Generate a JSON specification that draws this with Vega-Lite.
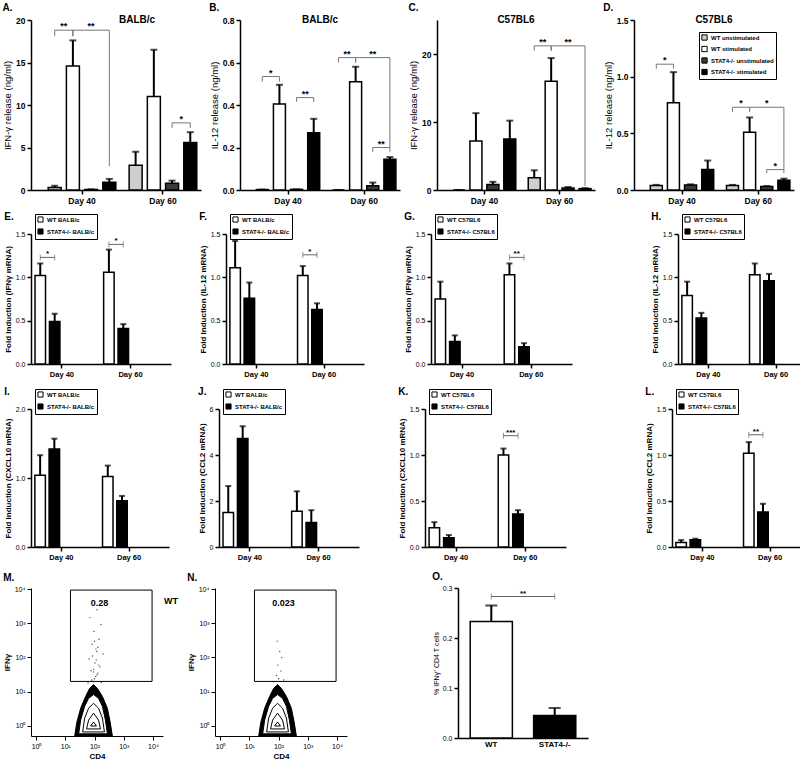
{
"$schema": "https://vega.github.io/schema/vega-lite/v6.json",
"padding": {"left": 2, "top": 3, "right": 0, "bottom": 0},
"config": {
  "font": "Liberation Sans",
  "view": {"stroke": null},
  "axis": {"grid": false, "domainColor": "#000", "domainWidth": 1.5, "tickColor": "#000", "tickWidth": 1.5, "tickSize": 4, "labelColor": "#000", "titleColor": "#000", "labelFont": "Liberation Sans", "titleFont": "Liberation Sans", "labelFontWeight": "bold", "labelFontSize": 8.5, "titleFontSize": 9.5, "titleFontWeight": "normal", "labelPadding": 2, "titlePadding": 3},
  "title": {"anchor": "start", "frame": "bounds", "fontSize": 10, "fontWeight": "bold", "font": "Liberation Sans", "offset": 2},
  "text": {"font": "Liberation Sans"},
  "legend": {"labelFont": "Liberation Sans"}
},
"datasets": {
  "A_b": [
    {"day": "Day 40", "slot": "WT unstimulated", "v": 0.3, "hi": 0.5},
    {"day": "Day 40", "slot": "WT stimulated", "v": 14.6, "hi": 17.6},
    {"day": "Day 40", "slot": "STAT4-/- unstimulated", "v": 0.05, "hi": 0.08},
    {"day": "Day 40", "slot": "STAT4-/- stimulated", "v": 0.9, "hi": 1.3},
    {"day": "Day 60", "slot": "WT unstimulated", "v": 2.9, "hi": 4.5},
    {"day": "Day 60", "slot": "WT stimulated", "v": 11.0, "hi": 16.5},
    {"day": "Day 60", "slot": "STAT4-/- unstimulated", "v": 0.8, "hi": 1.1},
    {"day": "Day 60", "slot": "STAT4-/- stimulated", "v": 5.6, "hi": 6.8}
  ],
  "A_r": [
    {"id": 1, "ord": 1, "day": "Day 40", "slot": "WT unstimulated", "v": 18.1},
    {"id": 1, "ord": 2, "day": "Day 40", "slot": "WT unstimulated", "v": 18.8},
    {"id": 1, "ord": 3, "day": "Day 40", "slot": "WT stimulated", "v": 18.8},
    {"id": 1, "ord": 4, "day": "Day 40", "slot": "WT stimulated", "v": 18.1},
    {"id": 2, "ord": 1, "day": "Day 40", "slot": "WT stimulated", "v": 18.1},
    {"id": 2, "ord": 2, "day": "Day 40", "slot": "WT stimulated", "v": 18.8},
    {"id": 2, "ord": 3, "day": "Day 40", "slot": "STAT4-/- stimulated", "v": 18.8},
    {"id": 2, "ord": 4, "day": "Day 40", "slot": "STAT4-/- stimulated", "v": 2.8},
    {"id": 3, "ord": 1, "day": "Day 60", "slot": "STAT4-/- unstimulated", "v": 7.3},
    {"id": 3, "ord": 2, "day": "Day 60", "slot": "STAT4-/- unstimulated", "v": 7.9},
    {"id": 3, "ord": 3, "day": "Day 60", "slot": "STAT4-/- stimulated", "v": 7.9},
    {"id": 3, "ord": 4, "day": "Day 60", "slot": "STAT4-/- stimulated", "v": 7.3}
  ],
  "A_s": [
    {"day": "Day 40", "slot": "m1", "v": 18.8, "t": "**"},
    {"day": "Day 40", "slot": "STAT4-/- unstimulated", "v": 18.8, "t": "**"},
    {"day": "Day 60", "slot": "m3", "v": 7.9, "t": "*"}
  ],
  "B_b": [
    {"day": "Day 40", "slot": "WT unstimulated", "v": 0.002, "hi": 0.002},
    {"day": "Day 40", "slot": "WT stimulated", "v": 0.405, "hi": 0.495},
    {"day": "Day 40", "slot": "STAT4-/- unstimulated", "v": 0.003, "hi": 0.003},
    {"day": "Day 40", "slot": "STAT4-/- stimulated", "v": 0.27, "hi": 0.335},
    {"day": "Day 60", "slot": "WT unstimulated", "v": 0.0, "hi": 0.0},
    {"day": "Day 60", "slot": "WT stimulated", "v": 0.51, "hi": 0.58},
    {"day": "Day 60", "slot": "STAT4-/- unstimulated", "v": 0.02, "hi": 0.035},
    {"day": "Day 60", "slot": "STAT4-/- stimulated", "v": 0.145, "hi": 0.155}
  ],
  "B_r": [
    {"id": 1, "ord": 1, "day": "Day 40", "slot": "WT unstimulated", "v": 0.51},
    {"id": 1, "ord": 2, "day": "Day 40", "slot": "WT unstimulated", "v": 0.534},
    {"id": 1, "ord": 3, "day": "Day 40", "slot": "WT stimulated", "v": 0.534},
    {"id": 1, "ord": 4, "day": "Day 40", "slot": "WT stimulated", "v": 0.51},
    {"id": 2, "ord": 1, "day": "Day 40", "slot": "STAT4-/- unstimulated", "v": 0.415},
    {"id": 2, "ord": 2, "day": "Day 40", "slot": "STAT4-/- unstimulated", "v": 0.435},
    {"id": 2, "ord": 3, "day": "Day 40", "slot": "STAT4-/- stimulated", "v": 0.435},
    {"id": 2, "ord": 4, "day": "Day 40", "slot": "STAT4-/- stimulated", "v": 0.415},
    {"id": 3, "ord": 1, "day": "Day 60", "slot": "WT unstimulated", "v": 0.6},
    {"id": 3, "ord": 2, "day": "Day 60", "slot": "WT unstimulated", "v": 0.623},
    {"id": 3, "ord": 3, "day": "Day 60", "slot": "WT stimulated", "v": 0.623},
    {"id": 3, "ord": 4, "day": "Day 60", "slot": "WT stimulated", "v": 0.6},
    {"id": 4, "ord": 1, "day": "Day 60", "slot": "WT stimulated", "v": 0.6},
    {"id": 4, "ord": 2, "day": "Day 60", "slot": "WT stimulated", "v": 0.623},
    {"id": 4, "ord": 3, "day": "Day 60", "slot": "STAT4-/- stimulated", "v": 0.623},
    {"id": 4, "ord": 4, "day": "Day 60", "slot": "STAT4-/- stimulated", "v": 0.2},
    {"id": 5, "ord": 1, "day": "Day 60", "slot": "STAT4-/- unstimulated", "v": 0.18},
    {"id": 5, "ord": 2, "day": "Day 60", "slot": "STAT4-/- unstimulated", "v": 0.2},
    {"id": 5, "ord": 3, "day": "Day 60", "slot": "STAT4-/- stimulated", "v": 0.2},
    {"id": 5, "ord": 4, "day": "Day 60", "slot": "STAT4-/- stimulated", "v": 0.18}
  ],
  "B_s": [
    {"day": "Day 40", "slot": "m1", "v": 0.534, "t": "*"},
    {"day": "Day 40", "slot": "m3", "v": 0.435, "t": "**"},
    {"day": "Day 60", "slot": "m1", "v": 0.623, "t": "**"},
    {"day": "Day 60", "slot": "STAT4-/- unstimulated", "v": 0.623, "t": "**"},
    {"day": "Day 60", "slot": "m3", "v": 0.2, "t": "**"}
  ],
  "C_b": [
    {"day": "Day 40", "slot": "WT unstimulated", "v": 0.0, "hi": 0.0},
    {"day": "Day 40", "slot": "WT stimulated", "v": 7.2, "hi": 11.3},
    {"day": "Day 40", "slot": "STAT4-/- unstimulated", "v": 0.8, "hi": 1.2},
    {"day": "Day 40", "slot": "STAT4-/- stimulated", "v": 7.5, "hi": 10.2},
    {"day": "Day 60", "slot": "WT unstimulated", "v": 1.8, "hi": 2.9},
    {"day": "Day 60", "slot": "WT stimulated", "v": 16.0, "hi": 19.4},
    {"day": "Day 60", "slot": "STAT4-/- unstimulated", "v": 0.3, "hi": 0.45},
    {"day": "Day 60", "slot": "STAT4-/- stimulated", "v": 0.2, "hi": 0.28}
  ],
  "C_r": [
    {"id": 1, "ord": 1, "day": "Day 60", "slot": "WT unstimulated", "v": 20.5},
    {"id": 1, "ord": 2, "day": "Day 60", "slot": "WT unstimulated", "v": 21.2},
    {"id": 1, "ord": 3, "day": "Day 60", "slot": "WT stimulated", "v": 21.2},
    {"id": 1, "ord": 4, "day": "Day 60", "slot": "WT stimulated", "v": 20.5},
    {"id": 2, "ord": 1, "day": "Day 60", "slot": "WT stimulated", "v": 20.5},
    {"id": 2, "ord": 2, "day": "Day 60", "slot": "WT stimulated", "v": 21.2},
    {"id": 2, "ord": 3, "day": "Day 60", "slot": "STAT4-/- stimulated", "v": 21.2},
    {"id": 2, "ord": 4, "day": "Day 60", "slot": "STAT4-/- stimulated", "v": 0.6}
  ],
  "C_s": [
    {"day": "Day 60", "slot": "m1", "v": 21.2, "t": "**"},
    {"day": "Day 60", "slot": "STAT4-/- unstimulated", "v": 21.2, "t": "**"}
  ],
  "D_b": [
    {"day": "Day 40", "slot": "WT unstimulated", "v": 0.04, "hi": 0.045},
    {"day": "Day 40", "slot": "WT stimulated", "v": 0.77, "hi": 1.04},
    {"day": "Day 40", "slot": "STAT4-/- unstimulated", "v": 0.045, "hi": 0.05},
    {"day": "Day 40", "slot": "STAT4-/- stimulated", "v": 0.18, "hi": 0.26},
    {"day": "Day 60", "slot": "WT unstimulated", "v": 0.04, "hi": 0.045},
    {"day": "Day 60", "slot": "WT stimulated", "v": 0.51, "hi": 0.64},
    {"day": "Day 60", "slot": "STAT4-/- unstimulated", "v": 0.03, "hi": 0.035},
    {"day": "Day 60", "slot": "STAT4-/- stimulated", "v": 0.085, "hi": 0.1}
  ],
  "D_r": [
    {"id": 1, "ord": 1, "day": "Day 40", "slot": "WT unstimulated", "v": 1.07},
    {"id": 1, "ord": 2, "day": "Day 40", "slot": "WT unstimulated", "v": 1.11},
    {"id": 1, "ord": 3, "day": "Day 40", "slot": "WT stimulated", "v": 1.11},
    {"id": 1, "ord": 4, "day": "Day 40", "slot": "WT stimulated", "v": 1.07},
    {"id": 2, "ord": 1, "day": "Day 60", "slot": "WT unstimulated", "v": 0.69},
    {"id": 2, "ord": 2, "day": "Day 60", "slot": "WT unstimulated", "v": 0.73},
    {"id": 2, "ord": 3, "day": "Day 60", "slot": "WT stimulated", "v": 0.73},
    {"id": 2, "ord": 4, "day": "Day 60", "slot": "WT stimulated", "v": 0.69},
    {"id": 3, "ord": 1, "day": "Day 60", "slot": "WT stimulated", "v": 0.69},
    {"id": 3, "ord": 2, "day": "Day 60", "slot": "WT stimulated", "v": 0.73},
    {"id": 3, "ord": 3, "day": "Day 60", "slot": "STAT4-/- stimulated", "v": 0.73},
    {"id": 3, "ord": 4, "day": "Day 60", "slot": "STAT4-/- stimulated", "v": 0.18},
    {"id": 4, "ord": 1, "day": "Day 60", "slot": "STAT4-/- unstimulated", "v": 0.15},
    {"id": 4, "ord": 2, "day": "Day 60", "slot": "STAT4-/- unstimulated", "v": 0.18},
    {"id": 4, "ord": 3, "day": "Day 60", "slot": "STAT4-/- stimulated", "v": 0.18},
    {"id": 4, "ord": 4, "day": "Day 60", "slot": "STAT4-/- stimulated", "v": 0.15}
  ],
  "D_s": [
    {"day": "Day 40", "slot": "m1", "v": 1.11, "t": "*"},
    {"day": "Day 60", "slot": "m1", "v": 0.73, "t": "*"},
    {"day": "Day 60", "slot": "STAT4-/- unstimulated", "v": 0.73, "t": "*"},
    {"day": "Day 60", "slot": "m3", "v": 0.18, "t": "*"}
  ],
  "E_b": [
    {"day": "Day 40", "slot": "WT BALB/c", "v": 1.02, "hi": 1.16},
    {"day": "Day 40", "slot": "STAT4-/- BALB/c", "v": 0.49, "hi": 0.58},
    {"day": "Day 60", "slot": "WT BALB/c", "v": 1.06, "hi": 1.32},
    {"day": "Day 60", "slot": "STAT4-/- BALB/c", "v": 0.41, "hi": 0.46}
  ],
  "E_r": [
    {"id": 1, "day": "Day 40", "slot": "WT BALB/c", "v": 1.23},
    {"id": 1, "day": "Day 40", "slot": "STAT4-/- BALB/c", "v": 1.23},
    {"id": 2, "day": "Day 60", "slot": "WT BALB/c", "v": 1.38},
    {"id": 2, "day": "Day 60", "slot": "STAT4-/- BALB/c", "v": 1.38}
  ],
  "E_s": [
    {"day": "Day 40", "slot": "mid", "v": 1.23, "t": "*"},
    {"day": "Day 60", "slot": "mid", "v": 1.38, "t": "*"}
  ],
  "F_b": [
    {"day": "Day 40", "slot": "WT BALB/c", "v": 1.11, "hi": 1.42},
    {"day": "Day 40", "slot": "STAT4-/- BALB/c", "v": 0.76, "hi": 0.94},
    {"day": "Day 60", "slot": "WT BALB/c", "v": 1.02, "hi": 1.13},
    {"day": "Day 60", "slot": "STAT4-/- BALB/c", "v": 0.63, "hi": 0.7}
  ],
  "F_r": [
    {"id": 1, "day": "Day 60", "slot": "WT BALB/c", "v": 1.26},
    {"id": 1, "day": "Day 60", "slot": "STAT4-/- BALB/c", "v": 1.26}
  ],
  "F_s": [
    {"day": "Day 60", "slot": "mid", "v": 1.26, "t": "*"}
  ],
  "G_b": [
    {"day": "Day 40", "slot": "WT C57BL6", "v": 0.75, "hi": 0.95},
    {"day": "Day 40", "slot": "STAT4-/- C57BL6", "v": 0.26, "hi": 0.33},
    {"day": "Day 60", "slot": "WT C57BL6", "v": 1.03, "hi": 1.16},
    {"day": "Day 60", "slot": "STAT4-/- C57BL6", "v": 0.2, "hi": 0.24}
  ],
  "G_r": [
    {"id": 1, "day": "Day 60", "slot": "WT C57BL6", "v": 1.23},
    {"id": 1, "day": "Day 60", "slot": "STAT4-/- C57BL6", "v": 1.23}
  ],
  "G_s": [
    {"day": "Day 60", "slot": "mid", "v": 1.23, "t": "**"}
  ],
  "H_b": [
    {"day": "Day 40", "slot": "WT C57BL6", "v": 0.79, "hi": 0.95},
    {"day": "Day 40", "slot": "STAT4-/- C57BL6", "v": 0.53, "hi": 0.59},
    {"day": "Day 60", "slot": "WT C57BL6", "v": 1.03, "hi": 1.16},
    {"day": "Day 60", "slot": "STAT4-/- C57BL6", "v": 0.96, "hi": 1.04}
  ],
  "I_b": [
    {"day": "Day 40", "slot": "WT BALB/c", "v": 1.04, "hi": 1.33},
    {"day": "Day 40", "slot": "STAT4-/- BALB/c", "v": 1.42, "hi": 1.57},
    {"day": "Day 60", "slot": "WT BALB/c", "v": 1.02, "hi": 1.18},
    {"day": "Day 60", "slot": "STAT4-/- BALB/c", "v": 0.67, "hi": 0.74}
  ],
  "J_b": [
    {"day": "Day 40", "slot": "WT BALB/c", "v": 1.5, "hi": 2.65},
    {"day": "Day 40", "slot": "STAT4-/- BALB/c", "v": 4.72, "hi": 5.25},
    {"day": "Day 60", "slot": "WT BALB/c", "v": 1.55, "hi": 2.42},
    {"day": "Day 60", "slot": "STAT4-/- BALB/c", "v": 1.07, "hi": 1.6}
  ],
  "K_b": [
    {"day": "Day 40", "slot": "WT C57BL6", "v": 0.21, "hi": 0.27},
    {"day": "Day 40", "slot": "STAT4-/- C57BL6", "v": 0.1, "hi": 0.13},
    {"day": "Day 60", "slot": "WT C57BL6", "v": 1.0, "hi": 1.07},
    {"day": "Day 60", "slot": "STAT4-/- C57BL6", "v": 0.36, "hi": 0.4}
  ],
  "K_r": [
    {"id": 1, "day": "Day 60", "slot": "WT C57BL6", "v": 1.21},
    {"id": 1, "day": "Day 60", "slot": "STAT4-/- C57BL6", "v": 1.21}
  ],
  "K_s": [
    {"day": "Day 60", "slot": "mid", "v": 1.21, "t": "***"}
  ],
  "L_b": [
    {"day": "Day 40", "slot": "WT C57BL6", "v": 0.05, "hi": 0.075},
    {"day": "Day 40", "slot": "STAT4-/- C57BL6", "v": 0.08, "hi": 0.09},
    {"day": "Day 60", "slot": "WT C57BL6", "v": 1.02, "hi": 1.14},
    {"day": "Day 60", "slot": "STAT4-/- C57BL6", "v": 0.38, "hi": 0.47}
  ],
  "L_r": [
    {"id": 1, "day": "Day 60", "slot": "WT C57BL6", "v": 1.22},
    {"id": 1, "day": "Day 60", "slot": "STAT4-/- C57BL6", "v": 1.22}
  ],
  "L_s": [
    {"day": "Day 60", "slot": "mid", "v": 1.22, "t": "**"}
  ],
  "ring": [
    {"ring": "r1", "ord": 1, "cd4": 21, "ifng": 0.51},
    {"ring": "r1", "ord": 2, "cd4": 24.5, "ifng": 1.22},
    {"ring": "r1", "ord": 3, "cd4": 33.5, "ifng": 3.3},
    {"ring": "r1", "ord": 4, "cd4": 49.5, "ifng": 7.3},
    {"ring": "r1", "ord": 5, "cd4": 67.6, "ifng": 12.4},
    {"ring": "r1", "ord": 6, "cd4": 92.5, "ifng": 16.2},
    {"ring": "r1", "ord": 7, "cd4": 126, "ifng": 12.4},
    {"ring": "r1", "ord": 8, "cd4": 186, "ifng": 7.3},
    {"ring": "r1", "ord": 9, "cd4": 275, "ifng": 3.3},
    {"ring": "r1", "ord": 10, "cd4": 347, "ifng": 1.22},
    {"ring": "r1", "ord": 11, "cd4": 407, "ifng": 0.51},
    {"ring": "r1", "ord": 12, "cd4": 21, "ifng": 0.51},
    {"ring": "r2", "ord": 1, "cd4": 28.7, "ifng": 0.59},
    {"ring": "r2", "ord": 2, "cd4": 33.5, "ifng": 1.49},
    {"ring": "r2", "ord": 3, "cd4": 45.9, "ifng": 3.76},
    {"ring": "r2", "ord": 4, "cd4": 62.6, "ifng": 6.4},
    {"ring": "r2", "ord": 5, "cd4": 92.5, "ifng": 8.3},
    {"ring": "r2", "ord": 6, "cd4": 137, "ifng": 6.4},
    {"ring": "r2", "ord": 7, "cd4": 186, "ifng": 3.76},
    {"ring": "r2", "ord": 8, "cd4": 236, "ifng": 1.49},
    {"ring": "r2", "ord": 9, "cd4": 275, "ifng": 0.59},
    {"ring": "r2", "ord": 10, "cd4": 28.7, "ifng": 0.59},
    {"ring": "r3", "ord": 1, "cd4": 39.2, "ifng": 0.67},
    {"ring": "r3", "ord": 2, "cd4": 45.9, "ifng": 1.7},
    {"ring": "r3", "ord": 3, "cd4": 62.6, "ifng": 3.3},
    {"ring": "r3", "ord": 4, "cd4": 92.5, "ifng": 4.6},
    {"ring": "r3", "ord": 5, "cd4": 137, "ifng": 3.3},
    {"ring": "r3", "ord": 6, "cd4": 186, "ifng": 1.7},
    {"ring": "r3", "ord": 7, "cd4": 218, "ifng": 0.67},
    {"ring": "r3", "ord": 8, "cd4": 39.2, "ifng": 0.67},
    {"ring": "r4", "ord": 1, "cd4": 53.6, "ifng": 0.82},
    {"ring": "r4", "ord": 2, "cd4": 62.6, "ifng": 1.49},
    {"ring": "r4", "ord": 3, "cd4": 92.5, "ifng": 2.37},
    {"ring": "r4", "ord": 4, "cd4": 137, "ifng": 1.49},
    {"ring": "r4", "ord": 5, "cd4": 160, "ifng": 0.82},
    {"ring": "r4", "ord": 6, "cd4": 53.6, "ifng": 0.82},
    {"ring": "r5", "ord": 1, "cd4": 73, "ifng": 1.0},
    {"ring": "r5", "ord": 2, "cd4": 92.5, "ifng": 1.3},
    {"ring": "r5", "ord": 3, "cd4": 117, "ifng": 1.0},
    {"ring": "r5", "ord": 4, "cd4": 73, "ifng": 1.0}
  ],
  "M_dot": [
    {"cd4": 100, "ifng": 24}, {"cd4": 122, "ifng": 31.4}, {"cd4": 75.9, "ifng": 40.9}, {"cd4": 154, "ifng": 53.3},
    {"cd4": 104, "ifng": 69.5}, {"cd4": 64.9, "ifng": 90.5}, {"cd4": 195, "ifng": 126}, {"cd4": 112, "ifng": 176},
    {"cd4": 82.2, "ifng": 245}, {"cd4": 142, "ifng": 341}, {"cd4": 96.1, "ifng": 579}, {"cd4": 167, "ifng": 921},
    {"cd4": 70.2, "ifng": 1463}, {"cd4": 122, "ifng": 2488}, {"cd4": 89, "ifng": 20}, {"cd4": 110, "ifng": 28},
    {"cd4": 80, "ifng": 22}, {"cd4": 130, "ifng": 35}, {"cd4": 95, "ifng": 45}, {"cd4": 140, "ifng": 60},
    {"cd4": 85, "ifng": 110}, {"cd4": 120, "ifng": 150}, {"cd4": 100, "ifng": 300}, {"cd4": 130, "ifng": 200},
    {"cd4": 60, "ifng": 18}, {"cd4": 170, "ifng": 19}, {"cd4": 92, "ifng": 38}, {"cd4": 115, "ifng": 85}
  ],
  "N_dot": [
    {"cd4": 100, "ifng": 24}, {"cd4": 85, "ifng": 30}, {"cd4": 120, "ifng": 40}, {"cd4": 95, "ifng": 60},
    {"cd4": 110, "ifng": 150}, {"cd4": 90, "ifng": 300}, {"cd4": 130, "ifng": 100}, {"cd4": 70, "ifng": 20},
    {"cd4": 150, "ifng": 22}
  ],
  "gate": [{"x1": 15, "x2": 9300, "y1": 20, "y2": 9300}],
  "M_lab": [{"cd4": 148, "ifng": 4000, "t": "0.28"}],
  "N_lab": [{"cd4": 148, "ifng": 4000, "t": "0.023"}],
  "M_name": [{"cd4": 24000, "ifng": 4500, "t": "WT"}],
  "O_b": [
    {"g": "WT", "v": 0.233, "hi": 0.265},
    {"g": "STAT4-/-", "v": 0.045, "hi": 0.06}
  ],
  "O_r": [
    {"g": "WT", "v": 0.283},
    {"g": "STAT4-/-", "v": 0.283}
  ],
  "O_s": [
    {"g": "mid", "v": 0.283, "t": "**"}
  ]
},
"resolve": {"scale": {"fill": "independent", "xOffset": "independent"}, "legend": {"fill": "independent"}},
"spacing": 11,
"vconcat": [
 {"resolve": {"scale": {"fill": "independent", "xOffset": "independent"}, "legend": {"fill": "independent"}},
  "spacing": 8,
  "vconcat": [
 {"resolve": {"scale": {"fill": "independent", "xOffset": "independent"}, "legend": {"fill": "independent"}},
  "spacing": 6,
  "vconcat": [
 {"resolve": {"scale": {"fill": "independent", "xOffset": "independent"}, "legend": {"fill": "independent"}},
  "hconcat": [
  {"title": {"text": "A."}, "width": 170, "height": 170,
   "layer": [
    {"data": {"name": "A_b"}, "mark": {"type": "bar", "stroke": "black", "strokeWidth": 1.5, "width": 13},
     "encoding": {
      "x": {"field": "day", "type": "nominal", "scale": {"domain": ["Day 40", "Day 60"], "paddingInner": 0.1, "paddingOuter": 0.1, "align": 0.9}, "axis": {"title": null, "labelAngle": 0}},
      "xOffset": {"field": "slot", "type": "nominal", "scale": {"domain": ["WT unstimulated", "m1", "WT stimulated", "m2", "STAT4-/- unstimulated", "m3", "STAT4-/- stimulated"], "paddingInner": 0, "paddingOuter": 0.5}},
      "y": {"field": "v", "type": "quantitative", "scale": {"domain": [0, 20], "nice": false}, "axis": {"title": "IFN-γ release (ng/ml)", "values": [0, 5, 10, 15, 20]}},
      "fill": {"field": "slot", "type": "nominal", "scale": {"domain": ["WT unstimulated", "WT stimulated", "STAT4-/- unstimulated", "STAT4-/- stimulated"], "range": ["#cfcfcf", "#ffffff", "#3a3a3a", "#000000"]}, "legend": null}}},
    {"data": {"name": "A_b"}, "mark": {"type": "rule", "strokeWidth": 2, "color": "black"},
     "encoding": {"x": {"field": "day", "type": "nominal"}, "xOffset": {"field": "slot", "type": "nominal"}, "y": {"field": "v", "type": "quantitative"}, "y2": {"field": "hi"}}},
    {"data": {"name": "A_b"}, "mark": {"type": "tick", "thickness": 2, "size": 7, "color": "black"},
     "encoding": {"x": {"field": "day", "type": "nominal"}, "xOffset": {"field": "slot", "type": "nominal"}, "y": {"field": "hi", "type": "quantitative"}}},
    {"data": {"name": "A_r"}, "mark": {"type": "line", "color": "#777", "strokeWidth": 1},
     "encoding": {"x": {"field": "day", "type": "nominal"}, "xOffset": {"field": "slot", "type": "nominal"}, "y": {"field": "v", "type": "quantitative"}, "detail": {"field": "id"}, "order": {"field": "ord"}}},
    {"data": {"name": "A_s"}, "mark": {"type": "text", "fontSize": 9, "fontWeight": "bold", "dy": -1, "baseline": "alphabetic"},
     "encoding": {"x": {"field": "day", "type": "nominal"}, "xOffset": {"field": "slot", "type": "nominal"}, "y": {"field": "v", "type": "quantitative"}, "text": {"field": "t"}}},
    {"data": {"values": [{"t": "BALB/c"}]}, "mark": {"type": "text", "fontSize": 10, "fontWeight": "bold", "baseline": "middle", "dx": 21},
     "encoding": {"y": {"datum": 20}, "text": {"field": "t"}}}
   ]},
  {"title": {"text": "B."}, "width": 160, "height": 170,
   "layer": [
    {"data": {"name": "B_b"}, "mark": {"type": "bar", "stroke": "black", "strokeWidth": 1.5, "width": 12},
     "encoding": {
      "x": {"field": "day", "type": "nominal", "scale": {"domain": ["Day 40", "Day 60"], "paddingInner": 0.1, "paddingOuter": 0.1, "align": 0.9}, "axis": {"title": null, "labelAngle": 0}},
      "xOffset": {"field": "slot", "type": "nominal", "scale": {"domain": ["WT unstimulated", "m1", "WT stimulated", "m2", "STAT4-/- unstimulated", "m3", "STAT4-/- stimulated"], "paddingInner": 0, "paddingOuter": 0.5}},
      "y": {"field": "v", "type": "quantitative", "scale": {"domain": [0, 0.8], "nice": false}, "axis": {"title": "IL-12 release (ng/ml)", "values": [0, 0.2, 0.4, 0.6, 0.8], "format": ".1f"}},
      "fill": {"field": "slot", "type": "nominal", "scale": {"domain": ["WT unstimulated", "WT stimulated", "STAT4-/- unstimulated", "STAT4-/- stimulated"], "range": ["#cfcfcf", "#ffffff", "#3a3a3a", "#000000"]}, "legend": null}}},
    {"data": {"name": "B_b"}, "mark": {"type": "rule", "strokeWidth": 2, "color": "black"},
     "encoding": {"x": {"field": "day", "type": "nominal"}, "xOffset": {"field": "slot", "type": "nominal"}, "y": {"field": "v", "type": "quantitative"}, "y2": {"field": "hi"}}},
    {"data": {"name": "B_b"}, "mark": {"type": "tick", "thickness": 2, "size": 7, "color": "black"},
     "encoding": {"x": {"field": "day", "type": "nominal"}, "xOffset": {"field": "slot", "type": "nominal"}, "y": {"field": "hi", "type": "quantitative"}}},
    {"data": {"name": "B_r"}, "mark": {"type": "line", "color": "#777", "strokeWidth": 1},
     "encoding": {"x": {"field": "day", "type": "nominal"}, "xOffset": {"field": "slot", "type": "nominal"}, "y": {"field": "v", "type": "quantitative"}, "detail": {"field": "id"}, "order": {"field": "ord"}}},
    {"data": {"name": "B_s"}, "mark": {"type": "text", "fontSize": 9, "fontWeight": "bold", "dy": -1, "baseline": "alphabetic"},
     "encoding": {"x": {"field": "day", "type": "nominal"}, "xOffset": {"field": "slot", "type": "nominal"}, "y": {"field": "v", "type": "quantitative"}, "text": {"field": "t"}}},
    {"data": {"values": [{"t": "BALB/c"}]}, "mark": {"type": "text", "fontSize": 10, "fontWeight": "bold", "baseline": "middle"},
     "encoding": {"y": {"datum": 0.8}, "text": {"field": "t"}}}
   ]},
  {"title": {"text": "C."}, "width": 158, "height": 170,
   "layer": [
    {"data": {"name": "C_b"}, "mark": {"type": "bar", "stroke": "black", "strokeWidth": 1.5, "width": 12},
     "encoding": {
      "x": {"field": "day", "type": "nominal", "scale": {"domain": ["Day 40", "Day 60"], "paddingInner": 0.1, "paddingOuter": 0.1, "align": 0.9}, "axis": {"title": null, "labelAngle": 0}},
      "xOffset": {"field": "slot", "type": "nominal", "scale": {"domain": ["WT unstimulated", "m1", "WT stimulated", "m2", "STAT4-/- unstimulated", "m3", "STAT4-/- stimulated"], "paddingInner": 0, "paddingOuter": 0.5}},
      "y": {"field": "v", "type": "quantitative", "scale": {"domain": [0, 25], "nice": false}, "axis": {"title": "IFN-γ release (ng/ml)", "values": [0, 5, 10, 15, 20, 25]}},
      "fill": {"field": "slot", "type": "nominal", "scale": {"domain": ["WT unstimulated", "WT stimulated", "STAT4-/- unstimulated", "STAT4-/- stimulated"], "range": ["#cfcfcf", "#ffffff", "#3a3a3a", "#000000"]}, "legend": null}}},
    {"data": {"name": "C_b"}, "mark": {"type": "rule", "strokeWidth": 2, "color": "black"},
     "encoding": {"x": {"field": "day", "type": "nominal"}, "xOffset": {"field": "slot", "type": "nominal"}, "y": {"field": "v", "type": "quantitative"}, "y2": {"field": "hi"}}},
    {"data": {"name": "C_b"}, "mark": {"type": "tick", "thickness": 2, "size": 7, "color": "black"},
     "encoding": {"x": {"field": "day", "type": "nominal"}, "xOffset": {"field": "slot", "type": "nominal"}, "y": {"field": "hi", "type": "quantitative"}}},
    {"data": {"name": "C_r"}, "mark": {"type": "line", "color": "#777", "strokeWidth": 1},
     "encoding": {"x": {"field": "day", "type": "nominal"}, "xOffset": {"field": "slot", "type": "nominal"}, "y": {"field": "v", "type": "quantitative"}, "detail": {"field": "id"}, "order": {"field": "ord"}}},
    {"data": {"name": "C_s"}, "mark": {"type": "text", "fontSize": 9, "fontWeight": "bold", "dy": -1, "baseline": "alphabetic"},
     "encoding": {"x": {"field": "day", "type": "nominal"}, "xOffset": {"field": "slot", "type": "nominal"}, "y": {"field": "v", "type": "quantitative"}, "text": {"field": "t"}}},
    {"data": {"values": [{"t": "C57BL6"}]}, "mark": {"type": "text", "fontSize": 10, "fontWeight": "bold", "baseline": "middle"},
     "encoding": {"y": {"datum": 25}, "text": {"field": "t"}}}
   ]},
  {"title": {"text": "D."}, "width": 160, "height": 170,
   "layer": [
    {"data": {"name": "D_b"}, "mark": {"type": "bar", "stroke": "black", "strokeWidth": 1.5, "width": 12},
     "encoding": {
      "x": {"field": "day", "type": "nominal", "scale": {"domain": ["Day 40", "Day 60"], "paddingInner": 0.1, "paddingOuter": 0.1, "align": 0.9}, "axis": {"title": null, "labelAngle": 0}},
      "xOffset": {"field": "slot", "type": "nominal", "scale": {"domain": ["WT unstimulated", "m1", "WT stimulated", "m2", "STAT4-/- unstimulated", "m3", "STAT4-/- stimulated"], "paddingInner": 0, "paddingOuter": 0.5}},
      "y": {"field": "v", "type": "quantitative", "scale": {"domain": [0, 1.5], "nice": false}, "axis": {"title": "IL-12 release (ng/ml)", "values": [0, 0.5, 1, 1.5], "format": ".1f"}},
      "fill": {"field": "slot", "type": "nominal", "scale": {"domain": ["WT unstimulated", "WT stimulated", "STAT4-/- unstimulated", "STAT4-/- stimulated"], "range": ["#cfcfcf", "#ffffff", "#3a3a3a", "#000000"]},
        "legend": {"orient": "none", "legendX": 65, "legendY": 12, "title": null, "strokeColor": "black", "padding": 2, "labelFontSize": 6, "labelFontWeight": "bold", "symbolType": "square", "symbolSize": 28, "symbolStrokeColor": "black", "symbolStrokeWidth": 1, "rowPadding": 0.5, "labelOffset": 3}}}},
    {"data": {"name": "D_b"}, "mark": {"type": "rule", "strokeWidth": 2, "color": "black"},
     "encoding": {"x": {"field": "day", "type": "nominal"}, "xOffset": {"field": "slot", "type": "nominal"}, "y": {"field": "v", "type": "quantitative"}, "y2": {"field": "hi"}}},
    {"data": {"name": "D_b"}, "mark": {"type": "tick", "thickness": 2, "size": 7, "color": "black"},
     "encoding": {"x": {"field": "day", "type": "nominal"}, "xOffset": {"field": "slot", "type": "nominal"}, "y": {"field": "hi", "type": "quantitative"}}},
    {"data": {"name": "D_r"}, "mark": {"type": "line", "color": "#777", "strokeWidth": 1},
     "encoding": {"x": {"field": "day", "type": "nominal"}, "xOffset": {"field": "slot", "type": "nominal"}, "y": {"field": "v", "type": "quantitative"}, "detail": {"field": "id"}, "order": {"field": "ord"}}},
    {"data": {"name": "D_s"}, "mark": {"type": "text", "fontSize": 9, "fontWeight": "bold", "dy": -1, "baseline": "alphabetic"},
     "encoding": {"x": {"field": "day", "type": "nominal"}, "xOffset": {"field": "slot", "type": "nominal"}, "y": {"field": "v", "type": "quantitative"}, "text": {"field": "t"}}},
    {"data": {"values": [{"t": "C57BL6"}]}, "mark": {"type": "text", "fontSize": 10, "fontWeight": "bold", "baseline": "middle"},
     "encoding": {"y": {"datum": 1.5}, "text": {"field": "t"}}}
   ]}
 ], "spacing": 8},
 {"resolve": {"scale": {"fill": "independent", "xOffset": "independent"}, "legend": {"fill": "independent"}},
  "hconcat": [
  {"resolve": {"scale": {"fill": "independent", "xOffset": "independent"}, "legend": {"fill": "independent"}},
   "hconcat": [
   {"resolve": {"scale": {"fill": "independent", "xOffset": "independent"}, "legend": {"fill": "independent"}},
    "hconcat": [
  {"title": {"text": "E.", "offset": -8}, "width": 140, "height": 130,
   "layer": [
    {"data": {"name": "E_b"}, "mark": {"type": "bar", "stroke": "black", "strokeWidth": 1.5, "width": 10.5},
     "encoding": {
      "x": {"field": "day", "type": "nominal", "scale": {"domain": ["Day 40", "Day 60"], "paddingInner": 0.16, "paddingOuter": 0.1, "align": 0.15}, "axis": {"title": null, "labelAngle": 0, "labelFontSize": 7.5}},
      "xOffset": {"field": "slot", "type": "nominal", "scale": {"domain": ["WT BALB/c", "mid", "STAT4-/- BALB/c", "e1", "e2", "e3", "e4"], "paddingInner": 0, "paddingOuter": 0.5}},
      "y": {"field": "v", "type": "quantitative", "scale": {"domain": [0, 1.5], "nice": false}, "axis": {"title": "Fold Induction (IFNγ mRNA)", "values": [0, 0.5, 1, 1.5], "format": ".1f", "labelFontSize": 7, "labelFontWeight": "normal", "titleFontSize": 8, "titleFontWeight": "bold"}},
      "fill": {"field": "slot", "type": "nominal", "scale": {"domain": ["WT BALB/c", "STAT4-/- BALB/c"], "range": ["#ffffff", "#000000"]},
        "legend": {"orient": "none", "legendX": 4, "legendY": -20, "title": null, "strokeColor": "black", "padding": 2, "labelFontSize": 6, "labelFontWeight": "bold", "symbolType": "square", "symbolSize": 26, "symbolStrokeColor": "black", "symbolStrokeWidth": 1, "rowPadding": 1, "labelOffset": 3}}}},
    {"data": {"name": "E_b"}, "mark": {"type": "rule", "strokeWidth": 2, "color": "black"},
     "encoding": {"x": {"field": "day", "type": "nominal"}, "xOffset": {"field": "slot", "type": "nominal"}, "y": {"field": "v", "type": "quantitative"}, "y2": {"field": "hi"}}},
    {"data": {"name": "E_b"}, "mark": {"type": "tick", "thickness": 2, "size": 6, "color": "black"},
     "encoding": {"x": {"field": "day", "type": "nominal"}, "xOffset": {"field": "slot", "type": "nominal"}, "y": {"field": "hi", "type": "quantitative"}}},
    {"data": {"name": "E_r"}, "mark": {"type": "line", "color": "#666", "strokeWidth": 1},
     "encoding": {"x": {"field": "day", "type": "nominal"}, "xOffset": {"field": "slot", "type": "nominal"}, "y": {"field": "v", "type": "quantitative"}, "detail": {"field": "id"}}},
    {"data": {"name": "E_r"}, "mark": {"type": "tick", "orient": "vertical", "size": 6, "thickness": 1, "color": "#666"},
     "encoding": {"x": {"field": "day", "type": "nominal"}, "xOffset": {"field": "slot", "type": "nominal"}, "y": {"field": "v", "type": "quantitative"}}},
    {"data": {"name": "E_s"}, "mark": {"type": "text", "fontSize": 8, "fontWeight": "bold", "dy": -1, "baseline": "alphabetic"},
     "encoding": {"x": {"field": "day", "type": "nominal"}, "xOffset": {"field": "slot", "type": "nominal"}, "y": {"field": "v", "type": "quantitative"}, "text": {"field": "t"}}}
   ]},
  {"title": {"text": "F.", "offset": -8}, "width": 138, "height": 130,
   "layer": [
    {"data": {"name": "F_b"}, "mark": {"type": "bar", "stroke": "black", "strokeWidth": 1.5, "width": 10.5},
     "encoding": {
      "x": {"field": "day", "type": "nominal", "scale": {"domain": ["Day 40", "Day 60"], "paddingInner": 0.16, "paddingOuter": 0.1, "align": 0.15}, "axis": {"title": null, "labelAngle": 0, "labelFontSize": 7.5}},
      "xOffset": {"field": "slot", "type": "nominal", "scale": {"domain": ["WT BALB/c", "mid", "STAT4-/- BALB/c", "e1", "e2", "e3", "e4"], "paddingInner": 0, "paddingOuter": 0.5}},
      "y": {"field": "v", "type": "quantitative", "scale": {"domain": [0, 1.5], "nice": false}, "axis": {"title": "Fold Induction (IL-12 mRNA)", "values": [0, 0.5, 1, 1.5], "format": ".1f", "labelFontSize": 7, "labelFontWeight": "normal", "titleFontSize": 8, "titleFontWeight": "bold"}},
      "fill": {"field": "slot", "type": "nominal", "scale": {"domain": ["WT BALB/c", "STAT4-/- BALB/c"], "range": ["#ffffff", "#000000"]},
        "legend": {"orient": "none", "legendX": 4, "legendY": -20, "title": null, "strokeColor": "black", "padding": 2, "labelFontSize": 6, "labelFontWeight": "bold", "symbolType": "square", "symbolSize": 26, "symbolStrokeColor": "black", "symbolStrokeWidth": 1, "rowPadding": 1, "labelOffset": 3}}}},
    {"data": {"name": "F_b"}, "mark": {"type": "rule", "strokeWidth": 2, "color": "black"},
     "encoding": {"x": {"field": "day", "type": "nominal"}, "xOffset": {"field": "slot", "type": "nominal"}, "y": {"field": "v", "type": "quantitative"}, "y2": {"field": "hi"}}},
    {"data": {"name": "F_b"}, "mark": {"type": "tick", "thickness": 2, "size": 6, "color": "black"},
     "encoding": {"x": {"field": "day", "type": "nominal"}, "xOffset": {"field": "slot", "type": "nominal"}, "y": {"field": "hi", "type": "quantitative"}}},
    {"data": {"name": "F_r"}, "mark": {"type": "line", "color": "#666", "strokeWidth": 1},
     "encoding": {"x": {"field": "day", "type": "nominal"}, "xOffset": {"field": "slot", "type": "nominal"}, "y": {"field": "v", "type": "quantitative"}, "detail": {"field": "id"}}},
    {"data": {"name": "F_r"}, "mark": {"type": "tick", "orient": "vertical", "size": 6, "thickness": 1, "color": "#666"},
     "encoding": {"x": {"field": "day", "type": "nominal"}, "xOffset": {"field": "slot", "type": "nominal"}, "y": {"field": "v", "type": "quantitative"}}},
    {"data": {"name": "F_s"}, "mark": {"type": "text", "fontSize": 8, "fontWeight": "bold", "dy": -1, "baseline": "alphabetic"},
     "encoding": {"x": {"field": "day", "type": "nominal"}, "xOffset": {"field": "slot", "type": "nominal"}, "y": {"field": "v", "type": "quantitative"}, "text": {"field": "t"}}}
   ]}
    ], "spacing": 28},
  {"title": {"text": "G.", "offset": -8}, "width": 141, "height": 130,
   "layer": [
    {"data": {"name": "G_b"}, "mark": {"type": "bar", "stroke": "black", "strokeWidth": 1.5, "width": 10.5},
     "encoding": {
      "x": {"field": "day", "type": "nominal", "scale": {"domain": ["Day 40", "Day 60"], "paddingInner": 0.16, "paddingOuter": 0.1, "align": 0.15}, "axis": {"title": null, "labelAngle": 0, "labelFontSize": 7.5}},
      "xOffset": {"field": "slot", "type": "nominal", "scale": {"domain": ["WT C57BL6", "mid", "STAT4-/- C57BL6", "e1", "e2", "e3", "e4"], "paddingInner": 0, "paddingOuter": 0.5}},
      "y": {"field": "v", "type": "quantitative", "scale": {"domain": [0, 1.5], "nice": false}, "axis": {"title": "Fold Induction (IFNγ mRNA)", "values": [0, 0.5, 1, 1.5], "format": ".1f", "labelFontSize": 7, "labelFontWeight": "normal", "titleFontSize": 8, "titleFontWeight": "bold"}},
      "fill": {"field": "slot", "type": "nominal", "scale": {"domain": ["WT C57BL6", "STAT4-/- C57BL6"], "range": ["#ffffff", "#000000"]},
        "legend": {"orient": "none", "legendX": 4, "legendY": -20, "title": null, "strokeColor": "black", "padding": 2, "labelFontSize": 6, "labelFontWeight": "bold", "symbolType": "square", "symbolSize": 26, "symbolStrokeColor": "black", "symbolStrokeWidth": 1, "rowPadding": 1, "labelOffset": 3}}}},
    {"data": {"name": "G_b"}, "mark": {"type": "rule", "strokeWidth": 2, "color": "black"},
     "encoding": {"x": {"field": "day", "type": "nominal"}, "xOffset": {"field": "slot", "type": "nominal"}, "y": {"field": "v", "type": "quantitative"}, "y2": {"field": "hi"}}},
    {"data": {"name": "G_b"}, "mark": {"type": "tick", "thickness": 2, "size": 6, "color": "black"},
     "encoding": {"x": {"field": "day", "type": "nominal"}, "xOffset": {"field": "slot", "type": "nominal"}, "y": {"field": "hi", "type": "quantitative"}}},
    {"data": {"name": "G_r"}, "mark": {"type": "line", "color": "#666", "strokeWidth": 1},
     "encoding": {"x": {"field": "day", "type": "nominal"}, "xOffset": {"field": "slot", "type": "nominal"}, "y": {"field": "v", "type": "quantitative"}, "detail": {"field": "id"}}},
    {"data": {"name": "G_r"}, "mark": {"type": "tick", "orient": "vertical", "size": 6, "thickness": 1, "color": "#666"},
     "encoding": {"x": {"field": "day", "type": "nominal"}, "xOffset": {"field": "slot", "type": "nominal"}, "y": {"field": "v", "type": "quantitative"}}},
    {"data": {"name": "G_s"}, "mark": {"type": "text", "fontSize": 8, "fontWeight": "bold", "dy": -1, "baseline": "alphabetic"},
     "encoding": {"x": {"field": "day", "type": "nominal"}, "xOffset": {"field": "slot", "type": "nominal"}, "y": {"field": "v", "type": "quantitative"}, "text": {"field": "t"}}}
   ]}
   ], "spacing": 40},
  {"title": {"text": "H.", "offset": -8}, "width": 138, "height": 130,
   "layer": [
    {"data": {"name": "H_b"}, "mark": {"type": "bar", "stroke": "black", "strokeWidth": 1.5, "width": 10.5},
     "encoding": {
      "x": {"field": "day", "type": "nominal", "scale": {"domain": ["Day 40", "Day 60"], "paddingInner": 0.16, "paddingOuter": 0.1, "align": 0.15}, "axis": {"title": null, "labelAngle": 0, "labelFontSize": 7.5}},
      "xOffset": {"field": "slot", "type": "nominal", "scale": {"domain": ["WT C57BL6", "mid", "STAT4-/- C57BL6", "e1", "e2", "e3", "e4"], "paddingInner": 0, "paddingOuter": 0.5}},
      "y": {"field": "v", "type": "quantitative", "scale": {"domain": [0, 1.5], "nice": false}, "axis": {"title": "Fold Induction (IL-12 mRNA)", "values": [0, 0.5, 1, 1.5], "format": ".1f", "labelFontSize": 7, "labelFontWeight": "normal", "titleFontSize": 8, "titleFontWeight": "bold"}},
      "fill": {"field": "slot", "type": "nominal", "scale": {"domain": ["WT C57BL6", "STAT4-/- C57BL6"], "range": ["#ffffff", "#000000"]},
        "legend": {"orient": "none", "legendX": 4, "legendY": -20, "title": null, "strokeColor": "black", "padding": 2, "labelFontSize": 6, "labelFontWeight": "bold", "symbolType": "square", "symbolSize": 26, "symbolStrokeColor": "black", "symbolStrokeWidth": 1, "rowPadding": 1, "labelOffset": 3}}}},
    {"data": {"name": "H_b"}, "mark": {"type": "rule", "strokeWidth": 2, "color": "black"},
     "encoding": {"x": {"field": "day", "type": "nominal"}, "xOffset": {"field": "slot", "type": "nominal"}, "y": {"field": "v", "type": "quantitative"}, "y2": {"field": "hi"}}},
    {"data": {"name": "H_b"}, "mark": {"type": "tick", "thickness": 2, "size": 6, "color": "black"},
     "encoding": {"x": {"field": "day", "type": "nominal"}, "xOffset": {"field": "slot", "type": "nominal"}, "y": {"field": "hi", "type": "quantitative"}}}
   ]}
 ], "spacing": 79}
  ]},
 {"resolve": {"scale": {"fill": "independent", "xOffset": "independent"}, "legend": {"fill": "independent"}},
  "hconcat": [
  {"resolve": {"scale": {"fill": "independent", "xOffset": "independent"}, "legend": {"fill": "independent"}},
   "hconcat": [
   {"resolve": {"scale": {"fill": "independent", "xOffset": "independent"}, "legend": {"fill": "independent"}},
    "hconcat": [
  {"title": {"text": "I.", "offset": -8}, "width": 138, "height": 138,
   "layer": [
    {"data": {"name": "I_b"}, "mark": {"type": "bar", "stroke": "black", "strokeWidth": 1.5, "width": 10.5},
     "encoding": {
      "x": {"field": "day", "type": "nominal", "scale": {"domain": ["Day 40", "Day 60"], "paddingInner": 0.16, "paddingOuter": 0.1, "align": 0.15}, "axis": {"title": null, "labelAngle": 0, "labelFontSize": 7.5}},
      "xOffset": {"field": "slot", "type": "nominal", "scale": {"domain": ["WT BALB/c", "mid", "STAT4-/- BALB/c", "e1", "e2", "e3", "e4"], "paddingInner": 0, "paddingOuter": 0.5}},
      "y": {"field": "v", "type": "quantitative", "scale": {"domain": [0, 2], "nice": false}, "axis": {"title": "Fold Induction (CXCL10 mRNA)", "values": [0, 0.5, 1, 1.5, 2], "format": ".1f", "labelFontSize": 7, "labelFontWeight": "normal", "titleFontSize": 8, "titleFontWeight": "bold"}},
      "fill": {"field": "slot", "type": "nominal", "scale": {"domain": ["WT BALB/c", "STAT4-/- BALB/c"], "range": ["#ffffff", "#000000"]},
        "legend": {"orient": "none", "legendX": 4, "legendY": -20, "title": null, "strokeColor": "black", "padding": 2, "labelFontSize": 6, "labelFontWeight": "bold", "symbolType": "square", "symbolSize": 26, "symbolStrokeColor": "black", "symbolStrokeWidth": 1, "rowPadding": 1, "labelOffset": 3}}}},
    {"data": {"name": "I_b"}, "mark": {"type": "rule", "strokeWidth": 2, "color": "black"},
     "encoding": {"x": {"field": "day", "type": "nominal"}, "xOffset": {"field": "slot", "type": "nominal"}, "y": {"field": "v", "type": "quantitative"}, "y2": {"field": "hi"}}},
    {"data": {"name": "I_b"}, "mark": {"type": "tick", "thickness": 2, "size": 6, "color": "black"},
     "encoding": {"x": {"field": "day", "type": "nominal"}, "xOffset": {"field": "slot", "type": "nominal"}, "y": {"field": "hi", "type": "quantitative"}}}
   ]},
  {"title": {"text": "J.", "offset": -8}, "width": 140, "height": 138,
   "layer": [
    {"data": {"name": "J_b"}, "mark": {"type": "bar", "stroke": "black", "strokeWidth": 1.5, "width": 10.5},
     "encoding": {
      "x": {"field": "day", "type": "nominal", "scale": {"domain": ["Day 40", "Day 60"], "paddingInner": 0.16, "paddingOuter": 0.1, "align": 0.15}, "axis": {"title": null, "labelAngle": 0, "labelFontSize": 7.5}},
      "xOffset": {"field": "slot", "type": "nominal", "scale": {"domain": ["WT BALB/c", "mid", "STAT4-/- BALB/c", "e1", "e2", "e3", "e4"], "paddingInner": 0, "paddingOuter": 0.5}},
      "y": {"field": "v", "type": "quantitative", "scale": {"domain": [0, 6], "nice": false}, "axis": {"title": "Fold Induction (CCL2 mRNA)", "values": [0, 2, 4, 6], "labelFontSize": 7, "labelFontWeight": "normal", "titleFontSize": 8, "titleFontWeight": "bold"}},
      "fill": {"field": "slot", "type": "nominal", "scale": {"domain": ["WT BALB/c", "STAT4-/- BALB/c"], "range": ["#ffffff", "#000000"]},
        "legend": {"orient": "none", "legendX": 4, "legendY": -20, "title": null, "strokeColor": "black", "padding": 2, "labelFontSize": 6, "labelFontWeight": "bold", "symbolType": "square", "symbolSize": 26, "symbolStrokeColor": "black", "symbolStrokeWidth": 1, "rowPadding": 1, "labelOffset": 3}}}},
    {"data": {"name": "J_b"}, "mark": {"type": "rule", "strokeWidth": 2, "color": "black"},
     "encoding": {"x": {"field": "day", "type": "nominal"}, "xOffset": {"field": "slot", "type": "nominal"}, "y": {"field": "v", "type": "quantitative"}, "y2": {"field": "hi"}}},
    {"data": {"name": "J_b"}, "mark": {"type": "tick", "thickness": 2, "size": 6, "color": "black"},
     "encoding": {"x": {"field": "day", "type": "nominal"}, "xOffset": {"field": "slot", "type": "nominal"}, "y": {"field": "hi", "type": "quantitative"}}}
   ]}
    ], "spacing": 29},
  {"title": {"text": "K.", "offset": -8}, "width": 141, "height": 138,
   "layer": [
    {"data": {"name": "K_b"}, "mark": {"type": "bar", "stroke": "black", "strokeWidth": 1.5, "width": 10.5},
     "encoding": {
      "x": {"field": "day", "type": "nominal", "scale": {"domain": ["Day 40", "Day 60"], "paddingInner": 0.16, "paddingOuter": 0.1, "align": 0.15}, "axis": {"title": null, "labelAngle": 0, "labelFontSize": 7.5}},
      "xOffset": {"field": "slot", "type": "nominal", "scale": {"domain": ["WT C57BL6", "mid", "STAT4-/- C57BL6", "e1", "e2", "e3", "e4"], "paddingInner": 0, "paddingOuter": 0.5}},
      "y": {"field": "v", "type": "quantitative", "scale": {"domain": [0, 1.5], "nice": false}, "axis": {"title": "Fold Induction (CXCL10 mRNA)", "values": [0, 0.5, 1, 1.5], "format": ".1f", "labelFontSize": 7, "labelFontWeight": "normal", "titleFontSize": 8, "titleFontWeight": "bold"}},
      "fill": {"field": "slot", "type": "nominal", "scale": {"domain": ["WT C57BL6", "STAT4-/- C57BL6"], "range": ["#ffffff", "#000000"]},
        "legend": {"orient": "none", "legendX": 4, "legendY": -20, "title": null, "strokeColor": "black", "padding": 2, "labelFontSize": 6, "labelFontWeight": "bold", "symbolType": "square", "symbolSize": 26, "symbolStrokeColor": "black", "symbolStrokeWidth": 1, "rowPadding": 1, "labelOffset": 3}}}},
    {"data": {"name": "K_b"}, "mark": {"type": "rule", "strokeWidth": 2, "color": "black"},
     "encoding": {"x": {"field": "day", "type": "nominal"}, "xOffset": {"field": "slot", "type": "nominal"}, "y": {"field": "v", "type": "quantitative"}, "y2": {"field": "hi"}}},
    {"data": {"name": "K_b"}, "mark": {"type": "tick", "thickness": 2, "size": 6, "color": "black"},
     "encoding": {"x": {"field": "day", "type": "nominal"}, "xOffset": {"field": "slot", "type": "nominal"}, "y": {"field": "hi", "type": "quantitative"}}},
    {"data": {"name": "K_r"}, "mark": {"type": "line", "color": "#666", "strokeWidth": 1},
     "encoding": {"x": {"field": "day", "type": "nominal"}, "xOffset": {"field": "slot", "type": "nominal"}, "y": {"field": "v", "type": "quantitative"}, "detail": {"field": "id"}}},
    {"data": {"name": "K_r"}, "mark": {"type": "tick", "orient": "vertical", "size": 6, "thickness": 1, "color": "#666"},
     "encoding": {"x": {"field": "day", "type": "nominal"}, "xOffset": {"field": "slot", "type": "nominal"}, "y": {"field": "v", "type": "quantitative"}}},
    {"data": {"name": "K_s"}, "mark": {"type": "text", "fontSize": 8, "fontWeight": "bold", "dy": -1, "baseline": "alphabetic"},
     "encoding": {"x": {"field": "day", "type": "nominal"}, "xOffset": {"field": "slot", "type": "nominal"}, "y": {"field": "v", "type": "quantitative"}, "text": {"field": "t"}}}
   ]}
   ], "spacing": 39},
  {"title": {"text": "L.", "offset": -8}, "width": 138, "height": 138,
   "layer": [
    {"data": {"name": "L_b"}, "mark": {"type": "bar", "stroke": "black", "strokeWidth": 1.5, "width": 10.5},
     "encoding": {
      "x": {"field": "day", "type": "nominal", "scale": {"domain": ["Day 40", "Day 60"], "paddingInner": 0.16, "paddingOuter": 0.1, "align": 0.15}, "axis": {"title": null, "labelAngle": 0, "labelFontSize": 7.5}},
      "xOffset": {"field": "slot", "type": "nominal", "scale": {"domain": ["WT C57BL6", "mid", "STAT4-/- C57BL6", "e1", "e2", "e3", "e4"], "paddingInner": 0, "paddingOuter": 0.5}},
      "y": {"field": "v", "type": "quantitative", "scale": {"domain": [0, 1.5], "nice": false}, "axis": {"title": "Fold Induction (CCL2 mRNA)", "values": [0, 0.5, 1, 1.5], "format": ".1f", "labelFontSize": 7, "labelFontWeight": "normal", "titleFontSize": 8, "titleFontWeight": "bold"}},
      "fill": {"field": "slot", "type": "nominal", "scale": {"domain": ["WT C57BL6", "STAT4-/- C57BL6"], "range": ["#ffffff", "#000000"]},
        "legend": {"orient": "none", "legendX": 4, "legendY": -20, "title": null, "strokeColor": "black", "padding": 2, "labelFontSize": 6, "labelFontWeight": "bold", "symbolType": "square", "symbolSize": 26, "symbolStrokeColor": "black", "symbolStrokeWidth": 1, "rowPadding": 1, "labelOffset": 3}}}},
    {"data": {"name": "L_b"}, "mark": {"type": "rule", "strokeWidth": 2, "color": "black"},
     "encoding": {"x": {"field": "day", "type": "nominal"}, "xOffset": {"field": "slot", "type": "nominal"}, "y": {"field": "v", "type": "quantitative"}, "y2": {"field": "hi"}}},
    {"data": {"name": "L_b"}, "mark": {"type": "tick", "thickness": 2, "size": 6, "color": "black"},
     "encoding": {"x": {"field": "day", "type": "nominal"}, "xOffset": {"field": "slot", "type": "nominal"}, "y": {"field": "hi", "type": "quantitative"}}},
    {"data": {"name": "L_r"}, "mark": {"type": "line", "color": "#666", "strokeWidth": 1},
     "encoding": {"x": {"field": "day", "type": "nominal"}, "xOffset": {"field": "slot", "type": "nominal"}, "y": {"field": "v", "type": "quantitative"}, "detail": {"field": "id"}}},
    {"data": {"name": "L_r"}, "mark": {"type": "tick", "orient": "vertical", "size": 6, "thickness": 1, "color": "#666"},
     "encoding": {"x": {"field": "day", "type": "nominal"}, "xOffset": {"field": "slot", "type": "nominal"}, "y": {"field": "v", "type": "quantitative"}}},
    {"data": {"name": "L_s"}, "mark": {"type": "text", "fontSize": 8, "fontWeight": "bold", "dy": -1, "baseline": "alphabetic"},
     "encoding": {"x": {"field": "day", "type": "nominal"}, "xOffset": {"field": "slot", "type": "nominal"}, "y": {"field": "v", "type": "quantitative"}, "text": {"field": "t"}}}
   ]}
 ], "spacing": 79}
  ]},
 {"resolve": {"scale": {"fill": "independent", "xOffset": "independent"}, "legend": {"fill": "independent"}},
  "hconcat": [
  {"hconcat": [
  {"title": {"text": "M."}, "width": 132, "height": 148,
   "layer": [
    {"data": {"name": "ring"}, "transform": [{"filter": "datum.ring == 'r1'"}], "mark": {"type": "line", "fill": "black", "stroke": "black", "strokeWidth": 1},
     "encoding": {
      "x": {"field": "cd4", "type": "quantitative", "scale": {"type": "log", "domain": [0.67, 22000], "nice": false}, "axis": {"title": "CD4", "values": [1, 10, 100, 1000, 10000], "labelExpr": "'10' + ['⁰','¹','²','³','⁴'][round(log(datum.value)/LN10)]", "titleFontWeight": "bold", "titleFontSize": 8, "labelFontSize": 7, "labelFontWeight": "normal", "domainWidth": 1, "tickWidth": 1}},
      "y": {"field": "ifng", "type": "quantitative", "scale": {"type": "log", "domain": [0.51, 10700], "nice": false}, "axis": {"title": "IFNγ", "values": [1, 10, 100, 1000, 10000], "labelExpr": "'10' + ['⁰','¹','²','³','⁴'][round(log(datum.value)/LN10)]", "titleFontWeight": "bold", "titleFontSize": 8, "labelFontSize": 7, "labelFontWeight": "normal", "domainWidth": 1, "tickWidth": 1}},
      "order": {"field": "ord"}}},
    {"data": {"name": "ring"}, "transform": [{"filter": "datum.ring == 'r2'"}], "mark": {"type": "line", "fill": "white", "stroke": "black", "strokeWidth": 1},
     "encoding": {"x": {"field": "cd4", "type": "quantitative"}, "y": {"field": "ifng", "type": "quantitative"}, "order": {"field": "ord"}}},
    {"data": {"name": "ring"}, "transform": [{"filter": "datum.ring != 'r1' && datum.ring != 'r2'"}], "mark": {"type": "line", "stroke": "black", "strokeWidth": 1},
     "encoding": {"x": {"field": "cd4", "type": "quantitative"}, "y": {"field": "ifng", "type": "quantitative"}, "detail": {"field": "ring"}, "order": {"field": "ord"}}},
    {"data": {"name": "M_dot"}, "mark": {"type": "point", "filled": true, "size": 2, "color": "black"},
     "encoding": {"x": {"field": "cd4", "type": "quantitative"}, "y": {"field": "ifng", "type": "quantitative"}}},
    {"data": {"name": "gate"}, "mark": {"type": "rect", "fillOpacity": 0, "stroke": "black", "strokeWidth": 1},
     "encoding": {"x": {"field": "x1", "type": "quantitative"}, "x2": {"field": "x2"}, "y": {"field": "y1", "type": "quantitative"}, "y2": {"field": "y2"}}},
    {"data": {"name": "M_lab"}, "mark": {"type": "text", "fontSize": 9, "fontWeight": "bold"},
     "encoding": {"x": {"field": "cd4", "type": "quantitative"}, "y": {"field": "ifng", "type": "quantitative"}, "text": {"field": "t"}}},
    {"data": {"name": "M_name"}, "mark": {"type": "text", "fontSize": 9, "fontWeight": "bold", "align": "left"},
     "encoding": {"x": {"field": "cd4", "type": "quantitative"}, "y": {"field": "ifng", "type": "quantitative"}, "text": {"field": "t"}}}
   ]},
  {"title": {"text": "N."}, "width": 132, "height": 148,
   "layer": [
    {"data": {"name": "ring"}, "transform": [{"filter": "datum.ring == 'r1'"}], "mark": {"type": "line", "fill": "black", "stroke": "black", "strokeWidth": 1},
     "encoding": {
      "x": {"field": "cd4", "type": "quantitative", "scale": {"type": "log", "domain": [0.67, 22000], "nice": false}, "axis": {"title": "CD4", "values": [1, 10, 100, 1000, 10000], "labelExpr": "'10' + ['⁰','¹','²','³','⁴'][round(log(datum.value)/LN10)]", "titleFontWeight": "bold", "titleFontSize": 8, "labelFontSize": 7, "labelFontWeight": "normal", "domainWidth": 1, "tickWidth": 1}},
      "y": {"field": "ifng", "type": "quantitative", "scale": {"type": "log", "domain": [0.51, 10700], "nice": false}, "axis": {"title": "IFNγ", "values": [1, 10, 100, 1000, 10000], "labelExpr": "'10' + ['⁰','¹','²','³','⁴'][round(log(datum.value)/LN10)]", "titleFontWeight": "bold", "titleFontSize": 8, "labelFontSize": 7, "labelFontWeight": "normal", "domainWidth": 1, "tickWidth": 1}},
      "order": {"field": "ord"}}},
    {"data": {"name": "ring"}, "transform": [{"filter": "datum.ring == 'r2'"}], "mark": {"type": "line", "fill": "white", "stroke": "black", "strokeWidth": 1},
     "encoding": {"x": {"field": "cd4", "type": "quantitative"}, "y": {"field": "ifng", "type": "quantitative"}, "order": {"field": "ord"}}},
    {"data": {"name": "ring"}, "transform": [{"filter": "datum.ring != 'r1' && datum.ring != 'r2'"}], "mark": {"type": "line", "stroke": "black", "strokeWidth": 1},
     "encoding": {"x": {"field": "cd4", "type": "quantitative"}, "y": {"field": "ifng", "type": "quantitative"}, "detail": {"field": "ring"}, "order": {"field": "ord"}}},
    {"data": {"name": "N_dot"}, "mark": {"type": "point", "filled": true, "size": 2, "color": "black"},
     "encoding": {"x": {"field": "cd4", "type": "quantitative"}, "y": {"field": "ifng", "type": "quantitative"}}},
    {"data": {"name": "gate"}, "mark": {"type": "rect", "fillOpacity": 0, "stroke": "black", "strokeWidth": 1},
     "encoding": {"x": {"field": "x1", "type": "quantitative"}, "x2": {"field": "x2"}, "y": {"field": "y1", "type": "quantitative"}, "y2": {"field": "y2"}}},
    {"data": {"name": "N_lab"}, "mark": {"type": "text", "fontSize": 9, "fontWeight": "bold"},
     "encoding": {"x": {"field": "cd4", "type": "quantitative"}, "y": {"field": "ifng", "type": "quantitative"}, "text": {"field": "t"}}}
   ]}
  ], "spacing": 8},
  {"title": {"text": "O."}, "width": 130, "height": 150,
   "layer": [
    {"data": {"name": "O_b"}, "mark": {"type": "bar", "stroke": "black", "strokeWidth": 1.5, "width": {"band": 1.33}},
     "encoding": {
      "x": {"field": "g", "type": "nominal", "scale": {"domain": ["WT", "mid", "STAT4-/-"], "paddingInner": 0, "paddingOuter": 0.55}, "axis": {"title": null, "labelAngle": 0, "ticks": false, "labelExpr": "datum.label == 'mid' ? '' : datum.label", "labelFontSize": 8}},
      "y": {"field": "v", "type": "quantitative", "scale": {"domain": [0, 0.3], "nice": false}, "axis": {"title": "% IFNγ⁺ CD4 T cells", "values": [0, 0.1, 0.2, 0.3], "format": ".1f", "labelFontSize": 7, "labelFontWeight": "normal", "titleFontSize": 7, "titleFontWeight": "normal"}},
      "fill": {"field": "g", "type": "nominal", "scale": {"domain": ["WT", "STAT4-/-"], "range": ["#ffffff", "#000000"]}, "legend": null}}},
    {"data": {"name": "O_b"}, "mark": {"type": "rule", "strokeWidth": 2, "color": "black"},
     "encoding": {"x": {"field": "g", "type": "nominal"}, "y": {"field": "v", "type": "quantitative"}, "y2": {"field": "hi"}}},
    {"data": {"name": "O_b"}, "mark": {"type": "tick", "thickness": 2, "size": 12, "color": "black"},
     "encoding": {"x": {"field": "g", "type": "nominal"}, "y": {"field": "hi", "type": "quantitative"}}},
    {"data": {"name": "O_r"}, "mark": {"type": "line", "color": "#666", "strokeWidth": 1},
     "encoding": {"x": {"field": "g", "type": "nominal"}, "y": {"field": "v", "type": "quantitative"}}},
    {"data": {"name": "O_r"}, "mark": {"type": "tick", "orient": "vertical", "size": 6, "thickness": 1, "color": "#666"},
     "encoding": {"x": {"field": "g", "type": "nominal"}, "y": {"field": "v", "type": "quantitative"}}},
    {"data": {"name": "O_s"}, "mark": {"type": "text", "fontSize": 8, "fontWeight": "bold", "dy": -1, "baseline": "alphabetic"},
     "encoding": {"x": {"field": "g", "type": "nominal"}, "y": {"field": "v", "type": "quantitative"}, "text": {"field": "t"}}}
   ]}
 ], "spacing": 85}
]
}
